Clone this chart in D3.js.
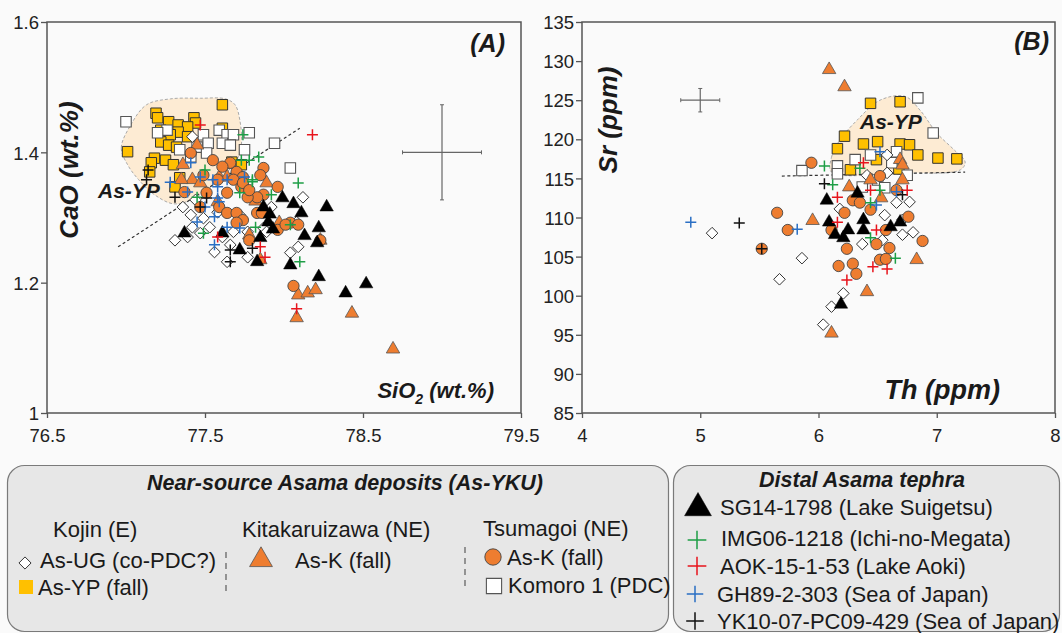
<!DOCTYPE html>
<html><head><meta charset="utf-8">
<script src="https://cdn.jsdelivr.net/npm/d3@7"></script>
<style>
html,body{margin:0;padding:0;background:#fafafa;}
svg{display:block;}
</style>
</head><body>
<svg id="chart" width="1062" height="633"></svg>
<script>
// ---------------- DATA ----------------
// Panel A: SiO2 (wt.%) vs CaO (wt.%)
const A_xTicks = [76.5, 77.5, 78.5, 79.5];
const A_yTicks = [1, 1.2, 1.4, 1.6];
const A_YP = [[77.61,1.473],[77.19,1.460],[77.20,1.453],[77.27,1.447],[77.33,1.442],[77.43,1.453],[77.44,1.445],[77.39,1.439],[77.33,1.431],[77.28,1.427],[77.22,1.416],[77.27,1.411],[77.32,1.408],[77.18,1.391],[77.25,1.388],[77.30,1.381],[77.16,1.384],[77.15,1.370],[77.01,1.401],[77.34,1.361],[77.31,1.347],[77.61,1.437],[77.67,1.385],[77.73,1.381],[77.39,1.424],[77.22,1.434]];
const A_Komoro = [[77.00,1.447],[77.26,1.434],[77.20,1.430],[77.49,1.427],[77.52,1.414],[77.59,1.434],[77.64,1.427],[77.68,1.427],[77.61,1.414],[77.66,1.411],[77.78,1.430],[77.94,1.414],[78.04,1.376],[77.34,1.404],[77.45,1.408],[77.51,1.399],[77.41,1.393],[77.75,1.404]];
const A_UG = [[77.42,1.424],[78.12,1.331],[77.36,1.316],[77.41,1.304],[77.49,1.299],[77.42,1.285],[77.53,1.285],[77.39,1.270],[77.47,1.276],[77.31,1.265],[77.61,1.270],[77.68,1.278],[77.77,1.278],[77.56,1.247],[77.64,1.232],[77.77,1.239],[78.04,1.246],[78.09,1.255],[77.92,1.316],[77.58,1.308],[77.87,1.284],[78.08,1.293],[77.89,1.278],[77.44,1.327],[77.66,1.258],[77.72,1.304]];
const A_KitaK = [[77.45,1.411],[77.36,1.381],[77.42,1.358],[77.35,1.358],[77.47,1.353],[77.66,1.381],[77.59,1.362],[77.64,1.362],[77.89,1.353],[77.58,1.324],[77.97,1.292],[77.78,1.273],[77.85,1.235],[78.23,1.265],[77.82,1.325],[78.09,1.181],[78.15,1.184],[78.20,1.189],[78.08,1.146],[78.43,1.153],[78.69,1.098]];
const A_TsuK = [[77.41,1.399],[77.55,1.388],[77.66,1.384],[77.70,1.370],[77.61,1.378],[77.74,1.362],[77.87,1.376],[77.85,1.365],[77.96,1.347],[77.58,1.358],[77.68,1.358],[77.73,1.347],[77.64,1.338],[77.51,1.338],[77.59,1.316],[77.64,1.307],[77.70,1.307],[77.74,1.296],[77.83,1.307],[77.87,1.335],[77.83,1.331],[77.47,1.316],[77.37,1.339],[78.04,1.292],[77.70,1.292],[77.96,1.281],[77.77,1.331],[77.74,1.353],[77.86,1.307],[78.01,1.289],[78.09,1.289],[77.78,1.265],[78.23,1.265],[78.06,1.195],[77.49,1.365],[77.78,1.342]];
const A_SG14 = [[77.99,1.330],[78.06,1.321],[77.87,1.316],[77.91,1.305],[78.11,1.307],[78.27,1.316],[77.93,1.282],[77.85,1.269],[78.22,1.284],[78.13,1.272],[78.21,1.261],[77.61,1.276],[77.37,1.276],[78.04,1.227],[77.83,1.232],[78.22,1.209],[78.39,1.184],[78.52,1.198],[77.90,1.293],[77.72,1.250]];
const A_IMG = [[77.74,1.427],[77.78,1.388],[77.84,1.393],[77.73,1.388],[77.80,1.358],[77.50,1.373],[77.45,1.331],[77.72,1.338],[77.92,1.335],[77.82,1.285],[78.04,1.289],[78.09,1.353],[77.49,1.276],[78.10,1.232],[77.80,1.355]];
const A_AOK = [[77.47,1.442],[78.18,1.427],[77.85,1.255],[77.88,1.239],[77.58,1.270],[78.08,1.160]];
const A_GH89 = [[77.28,1.354],[77.41,1.384],[77.39,1.339],[77.47,1.362],[77.50,1.316],[77.55,1.358],[77.58,1.347],[77.58,1.330],[77.59,1.324],[77.45,1.293],[77.56,1.301],[77.56,1.258],[77.64,1.285],[77.72,1.284],[77.75,1.362],[77.64,1.358]];
const A_YK10 = [[77.31,1.331],[77.47,1.316],[77.66,1.250],[77.66,1.232],[77.80,1.253],[77.51,1.330],[77.14,1.373],[77.13,1.358]];
const A_YPfield = [[77.01,1.381],[76.97,1.407],[77.03,1.442],[77.13,1.473],[77.28,1.482],[77.47,1.483],[77.63,1.482],[77.69,1.473],[77.72,1.450],[77.73,1.411],[77.70,1.388],[77.59,1.358],[77.41,1.327],[77.30,1.321],[77.18,1.335],[77.08,1.358]];
const A_trend = [[76.95,1.255],[78.10,1.437]];
const A_errCenter = [79.0, 1.40];
const A_errHalf = [0.25, 0.073];

// Panel B: Th (ppm) vs Sr (ppm)
const B_xTicks = [4, 5, 6, 7, 8];
const B_yTicks = [85, 90, 95, 100, 105, 110, 115, 120, 125, 130, 135];
const B_YP = [[6.44,124.6],[6.69,124.8],[6.22,120.4],[6.16,118.8],[6.38,119.4],[6.50,119.7],[6.69,119.4],[6.77,119.3],[6.84,118.0],[7.01,117.6],[7.17,117.5],[6.49,117.4],[6.27,116.1],[6.68,116.2]];
const B_Komoro = [[6.84,125.3],[6.97,120.8],[5.86,116.0],[6.16,116.6],[6.16,115.6],[6.44,118.0],[6.66,118.4],[6.50,114.8],[6.37,113.9],[6.56,113.8],[6.75,115.4],[6.62,117.0],[6.31,117.4]];
const B_UG = [[5.10,108.0],[5.86,104.8],[5.67,102.1],[6.21,100.3],[6.11,98.6],[6.04,96.3],[6.37,106.6],[6.18,111.1],[6.56,110.3],[6.66,111.9],[6.77,112.0],[6.71,107.8],[6.80,108.1],[6.58,115.7],[6.41,115.4],[6.54,107.1],[6.71,109.7],[6.58,118.0]];
const B_KitaK = [[6.09,128.9],[6.22,126.7],[6.69,117.4],[5.95,109.6],[6.26,113.9],[6.53,112.5],[6.71,114.8],[6.41,100.5],[6.11,95.2],[6.83,104.6],[6.71,116.7],[6.44,114.8]];
const B_TsuK = [[5.94,117.0],[5.65,110.6],[5.74,108.4],[5.52,106.0],[6.17,103.8],[6.29,104.1],[6.32,102.8],[6.24,106.0],[6.22,110.6],[6.52,104.6],[6.57,104.7],[6.49,106.6],[6.60,106.1],[6.88,107.0],[6.52,115.3],[6.44,111.0],[6.57,108.4],[6.76,110.1],[6.29,112.2],[6.35,111.9],[6.11,108.4],[6.66,113.5]];
const B_SG14 = [[6.07,112.2],[6.09,109.4],[6.14,107.8],[6.21,107.4],[6.25,108.4],[6.33,113.1],[6.38,109.7],[6.38,108.4],[6.61,108.8],[6.19,98.9],[6.69,109.4]];
const B_IMG = [[6.05,116.6],[6.12,114.2],[6.44,111.9],[6.44,107.4],[6.65,104.8],[6.35,116.3],[6.52,113.5]];
const B_AOK = [[6.38,117.0],[6.16,112.6],[6.16,109.4],[6.44,113.5],[6.49,108.4],[6.46,103.7],[6.58,103.4],[6.24,102.0],[6.75,113.5]];
const B_GH89 = [[4.92,109.4],[5.82,108.5],[6.49,111.6],[6.66,113.3],[6.52,118.4]];
const B_YK10 = [[5.33,109.3],[6.05,114.3],[5.52,106.0],[6.71,112.9]];
const B_YPfield = [[6.11,115.8],[6.11,117.7],[6.18,119.9],[6.33,122.5],[6.52,125.0],[6.73,125.5],[6.86,123.7],[7.00,120.8],[7.15,118.6],[7.24,117.1],[7.20,116.1],[6.69,115.7]];
const B_trend = [[5.69,115.3],[7.24,115.8]];
const B_errCenter = [5.0, 125];
const B_errHalf = [0.165, 1.5];

// Legend labels
const nearTitle = "Near-source Asama deposits (As-YKU)";
const distalTitle = "Distal Asama tephra";
const distalLabels = ["SG14-1798 (Lake Suigetsu)","IMG06-1218 (Ichi-no-Megata)","AOK-15-1-53 (Lake Aoki)","GH89-2-303 (Sea of Japan)","YK10-07-PC09-429 (Sea of Japan)"];

// ---------------- DRAWING ----------------
const FONT = "'Liberation Sans', Arial, Helvetica, sans-serif";
const svg = d3.select("#chart").style("font-family", FONT);
svg.append("rect").attr("width",1062).attr("height",633).attr("fill","#fafafa");

const C = {
  yellow:"#ffc000", orange:"#ee7d30", green:"#1e9e46", red:"#e8141c", blue:"#2a6fc4", black:"#111"
};

const squarePath = d3.symbol(d3.symbolSquare, 110)();
const diamondPath = "M0,-5.8L5.8,0L0,5.8L-5.8,0Z";
const triPath = d3.symbol(d3.symbolTriangle, 78)();
const circlePath = d3.symbol(d3.symbolCircle, 100)();
const crossPath = "M-5.5,0H5.5M0,-5.5V5.5";

const styles = {
  YP:{d:squarePath, fill:C.yellow, stroke:"#333", sw:1},
  Komoro:{d:squarePath, fill:"#fff", stroke:"#555", sw:1.1},
  UG:{d:diamondPath, fill:"#fff", stroke:"#333", sw:1},
  KitaK:{d:triPath, fill:C.orange, stroke:"#555", sw:0.8},
  TsuK:{d:circlePath, fill:C.orange, stroke:"#444", sw:0.9},
  SG14:{d:triPath, fill:"#000", stroke:"#000", sw:0.5},
  IMG:{d:crossPath, fill:"none", stroke:C.green, sw:1.5},
  AOK:{d:crossPath, fill:"none", stroke:C.red, sw:1.5},
  GH89:{d:crossPath, fill:"none", stroke:C.blue, sw:1.5},
  YK10:{d:crossPath, fill:"none", stroke:C.black, sw:1.5}
};

function drawPanel(cfg){
  const x = d3.scaleLinear().domain(cfg.xDomain).range(cfg.xRange);
  const y = d3.scaleLinear().domain(cfg.yDomain).range(cfg.yRange);
  const g = svg.append("g");
  g.append("rect").attr("x",cfg.xRange[0]).attr("y",cfg.yRange[1])
    .attr("width",cfg.xRange[1]-cfg.xRange[0]).attr("height",cfg.yRange[0]-cfg.yRange[1])
    .attr("fill","#fafafa");
  // As-YP field
  g.append("path").datum(cfg.field)
    .attr("d", d3.line().x(d=>x(d[0])).y(d=>y(d[1])).curve(d3.curveCatmullRomClosed.alpha(0.5)))
    .attr("fill","#fdebd3").attr("stroke","#aaa").attr("stroke-width",1).attr("stroke-dasharray","3,2");
  // trend dashed line
  g.append("path").datum(cfg.trend)
    .attr("d", d3.line().x(d=>x(d[0])).y(d=>y(d[1])))
    .attr("stroke","#333").attr("stroke-width",1.2).attr("stroke-dasharray","3,2.5").attr("fill","none");
  // error cross
  const ec = cfg.errC, eh = cfg.errH;
  g.append("line").attr("x1",x(ec[0]-eh[0])).attr("x2",x(ec[0]+eh[0])).attr("y1",y(ec[1])).attr("y2",y(ec[1])).attr("stroke","#666").attr("stroke-width",1.2);
  g.append("line").attr("x1",x(ec[0])).attr("x2",x(ec[0])).attr("y1",y(ec[1]-eh[1])).attr("y2",y(ec[1]+eh[1])).attr("stroke","#666").attr("stroke-width",1.2);
  [-1,1].forEach(s=>{
    g.append("line").attr("x1",x(ec[0]+s*eh[0])).attr("x2",x(ec[0]+s*eh[0])).attr("y1",y(ec[1])-2).attr("y2",y(ec[1])+2).attr("stroke","#666");
    g.append("line").attr("y1",y(ec[1]+s*eh[1])).attr("y2",y(ec[1]+s*eh[1])).attr("x1",x(ec[0])-2).attr("x2",x(ec[0])+2).attr("stroke","#666");
  });
  // series
  cfg.series.forEach(([key,data])=>{
    const st = styles[key];
    g.append("g").selectAll("path").data(data).join("path")
      .attr("transform",d=>`translate(${x(d[0])},${y(d[1])})`)
      .attr("d",st.d).attr("fill",st.fill).attr("stroke",st.stroke).attr("stroke-width",st.sw);
  });
  // frame
  g.append("rect").attr("x",cfg.xRange[0]).attr("y",cfg.yRange[1])
    .attr("width",cfg.xRange[1]-cfg.xRange[0]).attr("height",cfg.yRange[0]-cfg.yRange[1])
    .attr("fill","none").attr("stroke","#555").attr("stroke-width",1.5);
  // axes
  const ax = g.append("g").attr("transform",`translate(0,${cfg.yRange[0]})`)
    .call(d3.axisBottom(x).tickValues(cfg.xTicks).tickSize(5).tickPadding(3).tickFormat(cfg.xFmt));
  const ay = g.append("g").attr("transform",`translate(${cfg.xRange[0]},0)`)
    .call(d3.axisLeft(y).tickValues(cfg.yTicks).tickSize(6).tickPadding(2).tickFormat(cfg.yFmt));
  [ax,ay].forEach(a=>{
    a.select(".domain").remove();
    a.selectAll(".tick line").attr("stroke","#555").attr("stroke-width",1.3);
    a.selectAll("text").attr("font-family",FONT).attr("font-size",18.5).attr("fill","#222");
  });
  ax.selectAll("text").attr("y",29).attr("dy",0);
  ay.selectAll("text").attr("dy","0.36em");
  return {x,y,g};
}

const pA = drawPanel({
  xDomain:[76.5,79.5], xRange:[47,521], yDomain:[1,1.6], yRange:[413,22],
  xTicks:A_xTicks, yTicks:A_yTicks, xFmt:d3.format(".1f"), yFmt:d=>d===1?"1":d3.format(".1f")(d),
  field:A_YPfield, trend:A_trend, errC:A_errCenter, errH:A_errHalf,
  series:[["YP",A_YP],["Komoro",A_Komoro],["UG",A_UG],["KitaK",A_KitaK],["TsuK",A_TsuK],["SG14",A_SG14],["IMG",A_IMG],["GH89",A_GH89],["YK10",A_YK10],["AOK",A_AOK]]
});
const pB = drawPanel({
  xDomain:[4,8], xRange:[582,1055], yDomain:[85,135], yRange:[413,22],
  xTicks:B_xTicks, yTicks:B_yTicks, xFmt:d3.format("d"), yFmt:d3.format("d"),
  field:B_YPfield, trend:B_trend, errC:B_errCenter, errH:B_errHalf,
  series:[["YP",B_YP],["Komoro",B_Komoro],["UG",B_UG],["KitaK",B_KitaK],["TsuK",B_TsuK],["SG14",B_SG14],["IMG",B_IMG],["GH89",B_GH89],["YK10",B_YK10],["AOK",B_AOK]]
});

// panel labels & axis titles
function bi(x,y,txt,size,anchor,rot){
  const t = svg.append("text").attr("x",x).attr("y",y).attr("font-size",size)
    .attr("font-weight","bold").attr("font-style","italic").attr("fill","#1a1a1a")
    .attr("text-anchor",anchor||"start").text(txt);
  if(rot) t.attr("transform",`rotate(-90,${x},${y})`);
  return t;
}
bi(505,52,"(A)",25,"end");
bi(1049,50,"(B)",25,"end");
bi(78,170,"CaO (wt.%)",26,"middle",true);
bi(617,120,"Sr (ppm)",26,"middle",true);
bi(1000,399,"Th (ppm)",27,"end");
const si = svg.append("text").attr("x",494).attr("y",398).attr("font-size",22)
  .attr("font-weight","bold").attr("font-style","italic").attr("fill","#1a1a1a").attr("text-anchor","end");
si.append("tspan").text("SiO");
si.append("tspan").attr("font-size",14).attr("dy",6).text("2");
si.append("tspan").attr("dy",-6).text(" (wt.%)");
bi(98,198,"As-YP",21,"start");
bi(860,129,"As-YP",21,"start");

// ---------------- LEGENDS ----------------
svg.append("rect").attr("x",7.5).attr("y",465.5).attr("width",661).attr("height",166).attr("rx",17)
  .attr("fill","#e7e7e7").attr("stroke","#7a7a7a").attr("stroke-width",1.2);
svg.append("rect").attr("x",673.5).attr("y",465.5).attr("width",386).attr("height",166).attr("rx",17)
  .attr("fill","#e7e7e7").attr("stroke","#7a7a7a").attr("stroke-width",1.2);

bi(345,490,nearTitle,21.5,"middle");
bi(862,487,distalTitle,21.5,"middle");

function txt(x,y,s,size){
  return svg.append("text").attr("x",x).attr("y",y).attr("font-size",size||22).attr("fill","#1a1a1a").text(s);
}
function sym(key,x,y,scale){
  const st = styles[key];
  svg.append("path").attr("transform",`translate(${x},${y}) scale(${scale||1})`)
    .attr("d",st.d).attr("fill",st.fill).attr("stroke",st.stroke).attr("stroke-width",st.sw/(scale||1));
}
txt(53,537,"Kojin (E)");
txt(242,537,"Kitakaruizawa (NE)");
txt(483,536,"Tsumagoi (NE)");
sym("UG",25,563,1.05);
txt(40,568,"As-UG (co-PDC?)");
svg.append("rect").attr("x",19).attr("y",580).attr("width",14).attr("height",14).attr("fill",C.yellow).attr("stroke","none");
txt(38,595,"As-YP (fall)");
sym("KitaK",261,560,1.7);
txt(295,568,"As-K (fall)");
sym("TsuK",493,557,1.45);
txt(507,565,"As-K (fall)");
sym("Komoro",494,586,1.45);
txt(508,593,"Komoro 1 (PDC)");
[[226,552,592],[465,547,590]].forEach(d=>{
  svg.append("line").attr("x1",d[0]).attr("x2",d[0]).attr("y1",d[1]).attr("y2",d[2])
    .attr("stroke","#666").attr("stroke-width",1.3).attr("stroke-dasharray","6,5");
});

const dKeys = ["SG14","IMG","AOK","GH89","YK10"];
const dY = [515,546,574,602,629];
const dX = [720,721,720,717,717];
const dSym = [[698,508,2.0],[697,540,1.7],[697,566,1.7],[695,594,1.5],[695,621,1.6]];
dKeys.forEach((k,i)=>{
  sym(k,dSym[i][0],dSym[i][1],dSym[i][2]);
  txt(dX[i],dY[i],distalLabels[i]);
});
</script>
</body></html>
